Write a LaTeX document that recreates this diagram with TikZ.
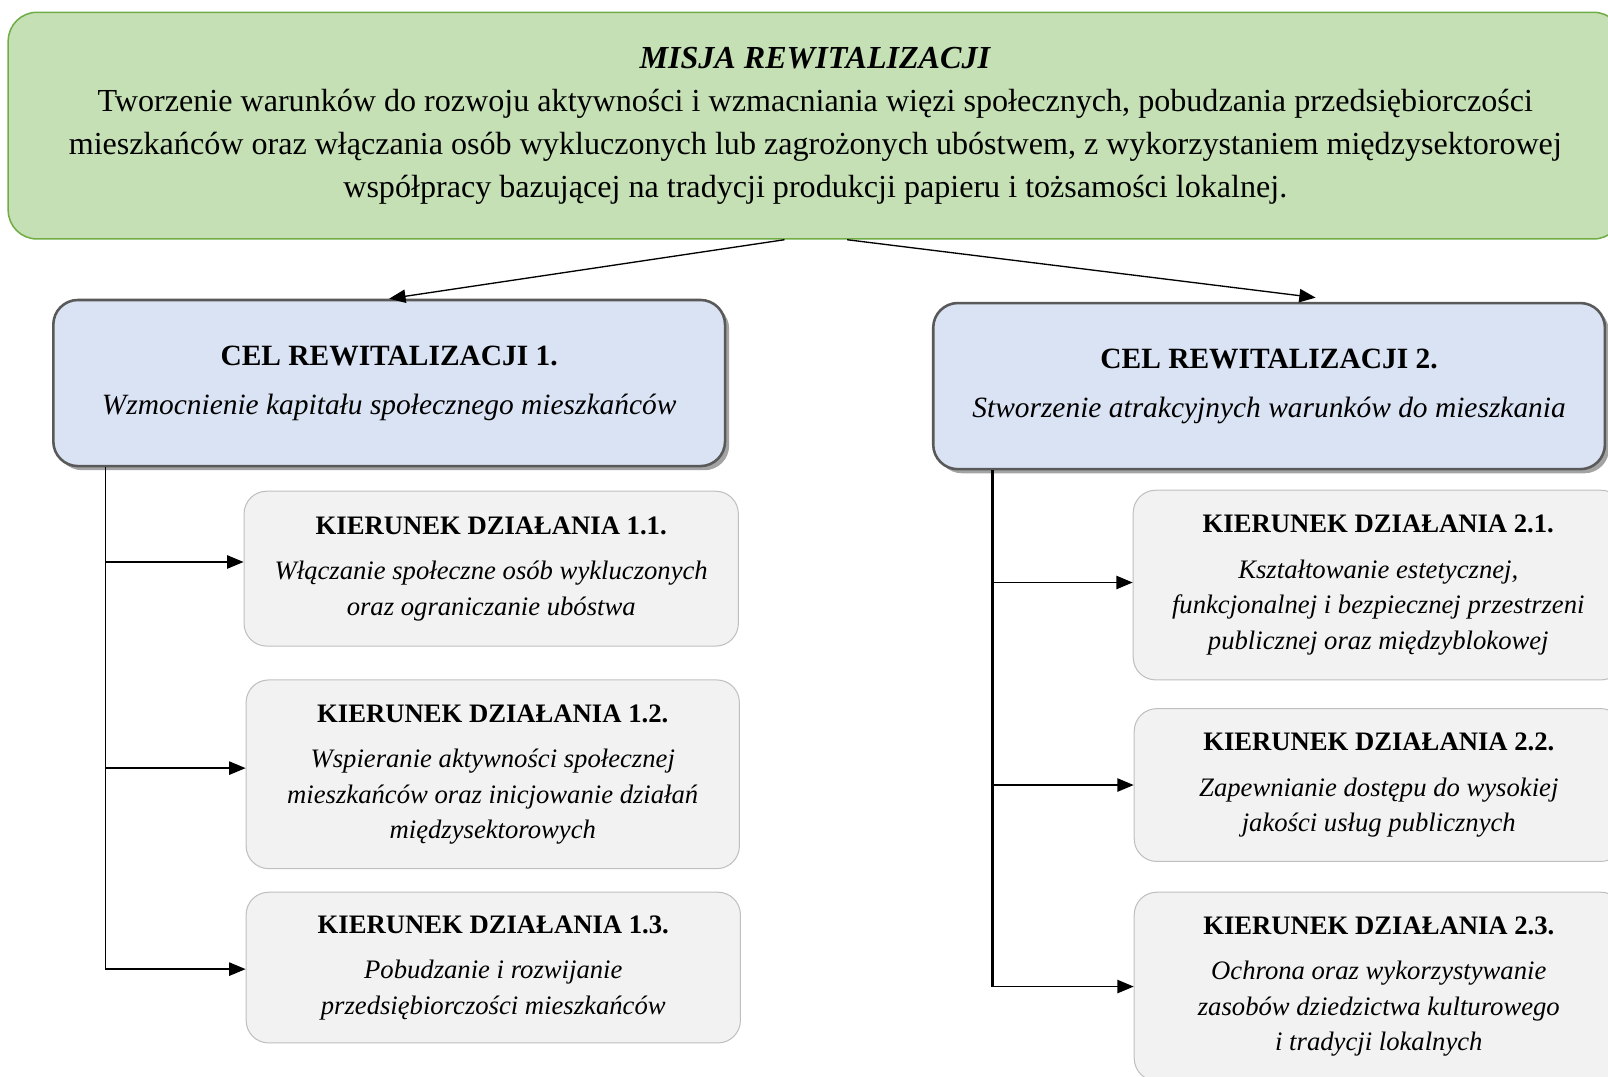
\documentclass[tikz,border=0pt]{standalone}
\usepackage{fontspec}
\setmainfont{Liberation Serif}
\usetikzlibrary{arrows.meta,shadows}

\definecolor{misjafill}{HTML}{C5E0B4}
\definecolor{misjadraw}{HTML}{70AD47}
\definecolor{celfill}{HTML}{DAE3F3}
\definecolor{celdraw}{HTML}{595959}
\definecolor{kierfill}{HTML}{F2F2F2}
\definecolor{kierdraw}{HTML}{BFBFBF}

\begin{document}
\begin{tikzpicture}[x=1pt,y=-1pt,
    misja/.style={draw=misjadraw,fill=misjafill,line width=1.5pt,rounded corners=28pt,
        align=center,inner sep=0pt,font=\fontsize{31.3}{42}\selectfont},
    cel/.style={draw=celdraw,fill=celfill,line width=2.5pt,rounded corners=24pt,
        align=center,inner sep=0pt,font=\fontsize{28.7}{34}\selectfont,
        drop shadow={shadow xshift=4pt,shadow yshift=-4pt,fill=black!45,opacity=0.8}},
    kier/.style={draw=kierdraw,fill=kierfill,line width=1pt,rounded corners=22pt,
        align=center,inner sep=0pt,font=\fontsize{26}{34.5}\selectfont},
    arr/.style={-{Triangle[length=16pt,width=13pt]},line width=1.3pt}]

    \useasboundingbox (0,0) rectangle (1568,1050);

    \node[misja,minimum width=1574pt,minimum height=221pt] (misja) at (795,122.5)
        {\raisebox{-3pt}{\textbf{\textit{MISJA REWITALIZACJI}}}\\[3pt]
         Tworzenie warunków do rozwoju aktywności i wzmacniania więzi społecznych, pobudzania przedsiębiorczości\\
         mieszkańców oraz włączania osób wykluczonych lub zagrożonych ubóstwem, z wykorzystaniem międzysektorowej\\
         współpracy bazującej na tradycji produkcji papieru i tożsamości lokalnej.};

    \begin{scope}[every node/.style={cel,minimum width=655pt,minimum height=162pt}]
        \node (cel1) at (379.5,373.5) {\textbf{CEL REWITALIZACJI 1.}\\[14pt]
            \textit{Wzmocnienie kapitału społecznego mieszkańców}};
        \node (cel2) at (1237.5,376.5) {\textbf{CEL REWITALIZACJI 2.}\\[14pt]
            \textit{Stworzenie atrakcyjnych warunków do mieszkania}};
    \end{scope}

    \begin{scope}[every node/.style={kier}]
        \node[minimum width=482pt,minimum height=151pt] (k11) at (479,554.5)
            {\textbf{KIERUNEK DZIAŁANIA 1.1.}\\[10pt]
             \textit{Włączanie społeczne osób wykluczonych}\\
             \textit{oraz ograniczanie ubóstwa}};
        \node[minimum width=481pt,minimum height=184pt] (k12) at (480.5,755)
            {\textbf{KIERUNEK DZIAŁANIA 1.2.}\\[10pt]
             \textit{Wspieranie aktywności społecznej}\\
             \textit{mieszkańców oraz inicjowanie działań}\\
             \textit{międzysektorowych}};
        \node[minimum width=482pt,minimum height=147pt] (k13) at (481,943.5)
            {\textbf{KIERUNEK DZIAŁANIA 1.3.}\\[10pt]
             \textit{Pobudzanie i rozwijanie}\\
             \textit{przedsiębiorczości mieszkańców}};
        \node[minimum width=478pt,minimum height=185pt] (k21) at (1344,570.5)
            {\textbf{KIERUNEK DZIAŁANIA 2.1.}\\[10pt]
             \textit{Kształtowanie estetycznej,}\\
             \textit{funkcjonalnej i bezpiecznej przestrzeni}\\
             \textit{publicznej oraz międzyblokowej}};
        \node[minimum width=477pt,minimum height=149pt] (k22) at (1344.5,765.5)
            {\textbf{KIERUNEK DZIAŁANIA 2.2.}\\[10pt]
             \textit{Zapewnianie dostępu do wysokiej}\\
             \textit{jakości usług publicznych}};
        \node[minimum width=477pt,minimum height=184pt] (k23) at (1344.5,962)
            {\textbf{KIERUNEK DZIAŁANIA 2.3.}\\[10pt]
             \textit{Ochrona oraz wykorzystywanie}\\
             \textit{zasobów dziedzictwa kulturowego}\\
             \textit{i tradycji lokalnych}};
    \end{scope}

    % start and end points of the connectors
    \coordinate (m1) at ([xshift=-30pt]misja.south);
    \coordinate (m2) at ([xshift=31pt]misja.south);
    \coordinate (c2in) at ([xshift=45.5pt,yshift=4pt]cel2.north);
    \coordinate (l0) at ([xshift=52pt]cel1.south west);
    \coordinate (r0) at ([xshift=59pt]cel2.south west);

    \begin{scope}
        \path [arr] (m1) edge (cel1.north);
        \path [arr] (m2) edge (c2in);

        \draw [arr] (l0) |- ([yshift=-1.5pt]k13.west);
        \draw [arr] (l0 |- k11.west) ++(0,-6.5) -- ([yshift=6.5pt]k11.west);
        \draw [arr] (l0 |- k12.west) ++(0,-6) -- ([yshift=6pt]k12.west);

        \draw [line width=2.3pt] (r0) -- (r0 |- k23.west);
        \draw [arr,line width=1.6pt] (r0 |- k23.west) -- (k23.west);
        \draw [arr,line width=1.6pt] (r0 |- k21.west) ++(0,-2.5) -- ([yshift=2.5pt]k21.west);
        \draw [arr,line width=1.6pt] (r0 |- k22.west) -- (k22.west);
    \end{scope}
\end{tikzpicture}
\end{document}
